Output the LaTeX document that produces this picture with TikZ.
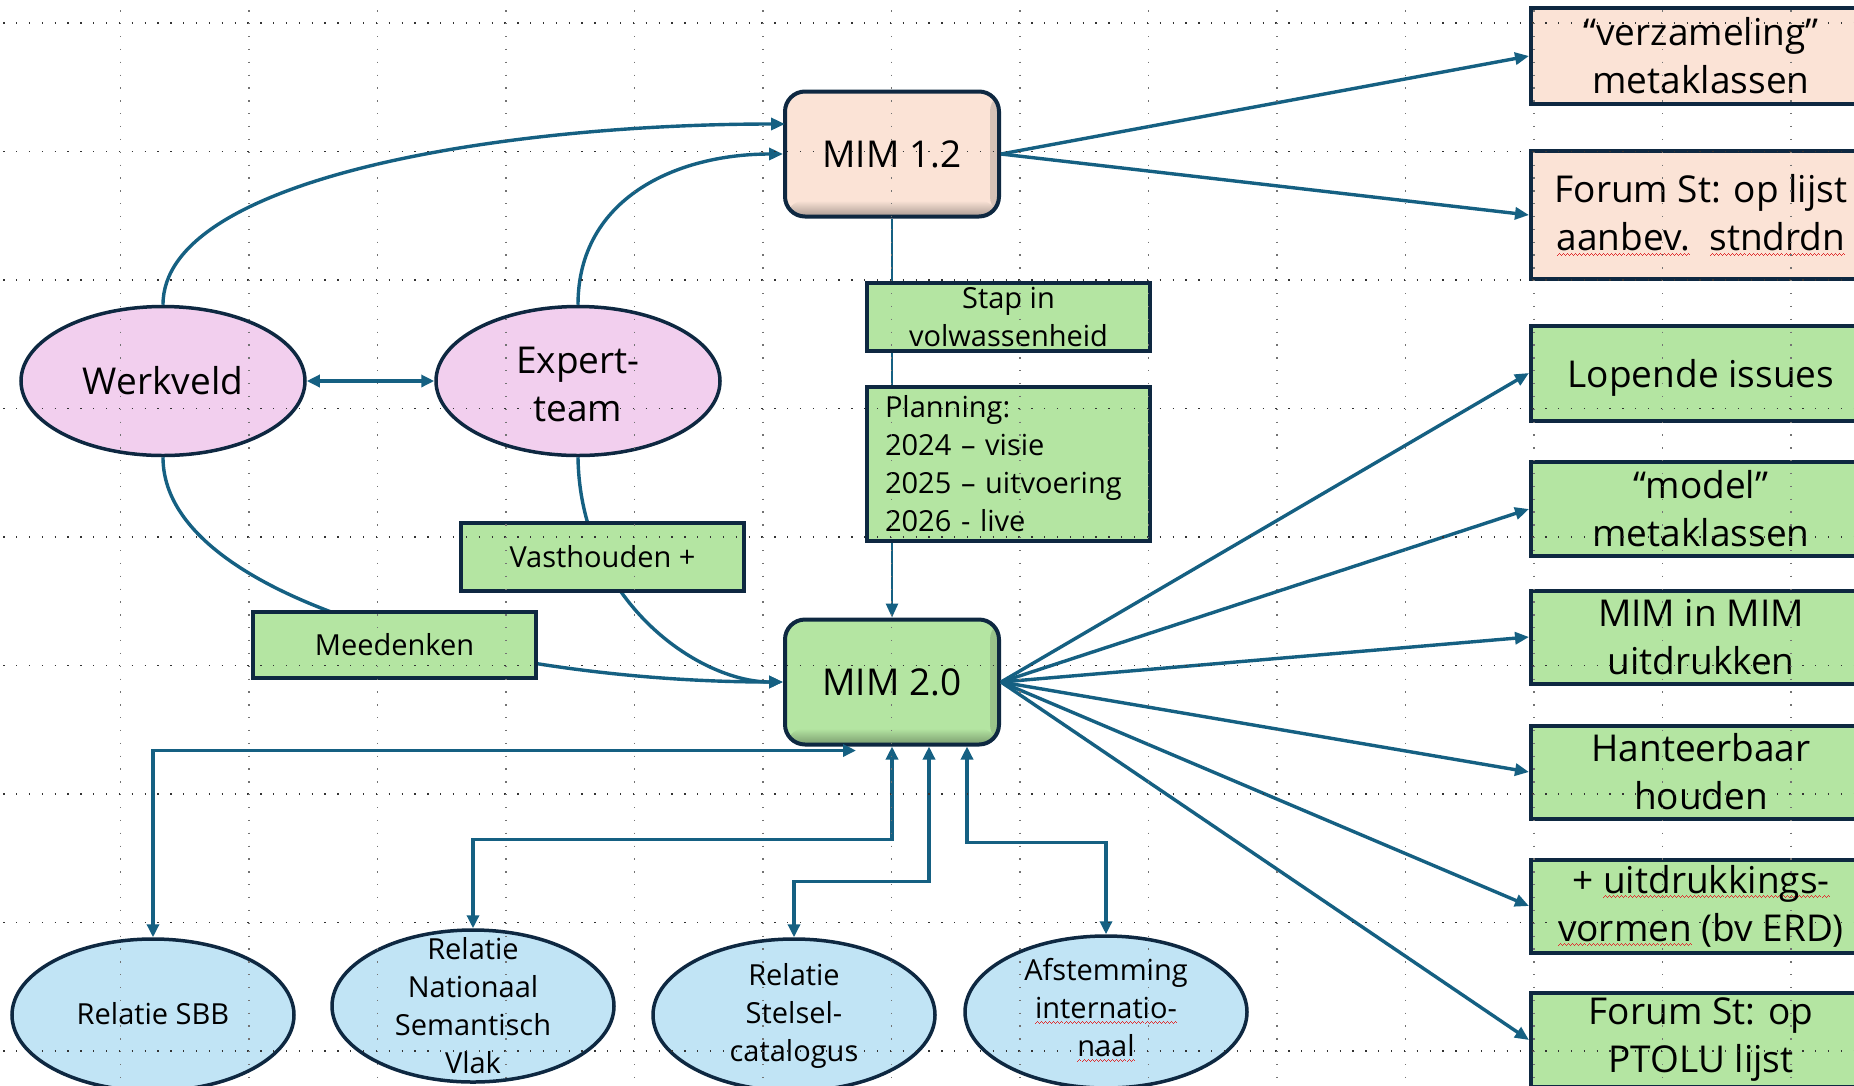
\documentclass[tikz,border=0pt]{standalone}
\usepackage{fontspec}
\setmainfont{Open Sans}
\usetikzlibrary{shapes.geometric,arrows.meta,calc}
\definecolor{cNavy}{HTML}{0E2841}
\definecolor{cLine}{HTML}{156082}
\definecolor{cPeach}{HTML}{FBE3D6}
\definecolor{cGreen}{HTML}{B4E5A2}
\definecolor{cPink}{HTML}{F2CFEE}
\definecolor{cBlue}{HTML}{C1E4F5}
\definecolor{cWave}{HTML}{E03030}
\newcommand\redsq[1]{\setbox0\hbox{#1}\rlap{\hbox to\wd0{\color{cWave}\xleaders\hbox{\rule[-5pt]{1pt}{1pt}\rule[-4pt]{1pt}{1pt}\rule[-3pt]{1pt}{1pt}\rule[-4pt]{1pt}{1pt}}\hfil}}#1}
\newcommand\bigf{\fontsize{37}{48}\selectfont}
\newcommand\smallf{\fontsize{29}{38}\selectfont}
\begin{document}
\begin{tikzpicture}[x=1pt,y=-1pt,
  conn/.style={draw=cLine,line width=3.4pt},
  arrowend/.style={-{Triangle[length=14pt,width=12pt]}},
  arrowboth/.style={{Triangle[length=13pt,width=12pt]}-{Triangle[length=13pt,width=12pt]}},
  innershade/.style={path picture={
     \shade[left color=#1,right color=#1!85!black]
        ($(path picture bounding box.north east)+(-9,0)$) rectangle (path picture bounding box.south east);
     \shade[top color=#1,bottom color=#1!68!black]
        ($(path picture bounding box.south west)+(0,-16)$) rectangle (path picture bounding box.south east);}},
  mimbox/.style={draw=cNavy,line width=4pt,rounded corners=20pt,minimum width=214pt,minimum height=125pt,inner sep=0pt,font=\bigf},
  pinkell/.style={ellipse,draw=cNavy,line width=3.5pt,fill=cPink,minimum width=284pt,minimum height=149pt,inner sep=0pt},
  blueell/.style={ellipse,draw=cNavy,line width=3.5pt,fill=cBlue,minimum width=282pt,minimum height=152pt,inner sep=0pt},
  bigtext/.style={inner sep=0pt,align=center,font=\bigf},
  smalltext/.style={inner sep=0pt,align=center,font=\smallf},
  lbl/.style={draw=cNavy,fill=cGreen,line width=4pt,inner sep=0pt,minimum width=283pt,minimum height=68pt,font=\smallf,align=center},
  rbox/.style={draw=cNavy,line width=4pt,inner sep=0pt,minimum width=340pt,align=center,font=\bigf},
  gridh/.style={draw=black!80,line width=1.3pt,dash pattern=on 1.3pt off 11.55pt},
  gridv/.style={draw=black!55,line width=1.3pt,dash pattern=on 1.3pt off 11.55pt}
]
\useasboundingbox (0,0) rectangle (1854,1085);
\fill[white] (0,0) rectangle (1854,1085);

\coordinate (m12a) at (785,124);

% ---------- main nodes
\node[mimbox,fill=cPeach,innershade=cPeach] (M12) at (892,154) {MIM 1.2};
\node[mimbox,fill=cGreen,innershade=cGreen] (M20) at (892,682) {MIM 2.0};

\node[pinkell] (WV) at (163,381) {};
\node[bigtext] (WVt) at (163,381) {Werkveld};
\node[pinkell] (ET) at (578,381) {};
\node[bigtext] (ETt) at (578,384) {Expert-\\team};

% right boxes
\node[rbox,fill=cPeach,minimum height=96pt] (VZ) at (1701,56) {“verzameling”\\metaklassen};
\node[rbox,fill=cPeach,minimum height=128pt] (FL) at (1701,215) {Forum St: op lijst\\\redsq{aanbev.}\ \ \redsq{stndrdn}};
\node[rbox,fill=cGreen,minimum height=95pt,text depth=0pt] (LI) at (1701,373) {Lopende issues};
\node[rbox,fill=cGreen,minimum height=94pt] (MO) at (1701,509) {“model”\\metaklassen};
\node[rbox,fill=cGreen,minimum height=93pt] (MM) at (1701,637) {MIM in MIM\\uitdrukken};
\node[rbox,fill=cGreen,minimum height=93pt] (HB) at (1701,772) {Hanteerbaar\\houden};
\node[rbox,fill=cGreen,minimum height=93pt] (UV) at (1701,906) {+ \redsq{uitdrukkings-}\\\redsq{vormen} (bv ERD)};
\node[rbox,fill=cGreen,minimum height=94pt] (PT) at (1701,1040) {Forum St: op\\PTOLU lijst};

% bottom ellipses
\node[blueell] (SBB) at (153,1015) {};
\node[smalltext] (SBBt) at (153,1014) {Relatie SBB};
\node[blueell] (NSV) at (473,1006) {};
\node[smalltext] (NSVt) at (473,1006) {Relatie\\Nationaal\\Semantisch\\Vlak};
\node[blueell] (SC) at (794,1015) {};
\node[smalltext] (SCt) at (794,1016) {Relatie\\Stelsel-\\catalogus};
\node[blueell] (AF) at (1106,1012) {};
\node[smalltext] (AFt) at (1106,1010) {Afstemming\\\redsq{internatio-}\\\redsq{naal}};

% ---------- connectors
\draw[conn,arrowend] (WV.north) .. controls +(0,-127) and +(-282,0) .. (m12a);
\draw[conn,arrowend] (ET.north) .. controls +(0,-107) and +(-106,0) .. (M12.west);
\draw[conn,arrowboth] (WV.east) -- (ET.west);
\draw[conn,arrowend] (WV.south) .. controls +(0,144) and +(-285,0) .. (M20.west);
\draw[conn,arrowend] (ET.south) .. controls +(2,144) and +(-84,0) .. (M20.west);
\draw[conn,arrowend,line width=2.6pt] (M12.south) -- (M20.north);

\draw[conn,arrowend] (M12.east) -- (VZ.west);
\draw[conn,arrowend] (M12.east) -- (FL.west);
\foreach \t in {LI,MO,MM,HB,UV,PT}{
  \draw[conn,arrowend] (M20.east) -- (\t.west);
}

\coordinate (sbbend) at ($(M20.south)+(-36,4)$);
\draw[conn,arrowboth] (SBB.north) |- (sbbend);
\draw[conn,arrowboth] (M20.south) -- ++(0,93) -| (NSV.north);
\draw[conn,arrowboth] ($(M20.south)+(37,0)$) -- ++(0,135) -| (SC.north);
\draw[conn,arrowboth] ($(M20.south)+(75,0)$) -- ++(0,96) -| (AF.north);

% label boxes on top of connectors
\node[lbl] (STAP) at (1008.5,317) {Stap in\\volwassenheid};
\node[lbl,minimum height=154pt,text width=247pt,align=left] (PLAN) at (1008.5,464) {Planning:\\2024 – visie\\2025 – uitvoering\\2026 - live};
\node[lbl] (VH) at (602.5,557) {Vasthouden +};
\node[lbl,minimum height=66pt] (MD) at (394.5,645) {Meedenken};

% ---------- grid overlay
\foreach \k in {0,...,8}{
  \draw[gridh] (3.2,23+128.5*\k) -- (1854,23+128.5*\k);
}
\foreach \k in {0,...,13}{
  \draw[gridv] (120.5+128.5*\k,10.3) -- (120.5+128.5*\k,1085);
}
\end{tikzpicture}
\end{document}
